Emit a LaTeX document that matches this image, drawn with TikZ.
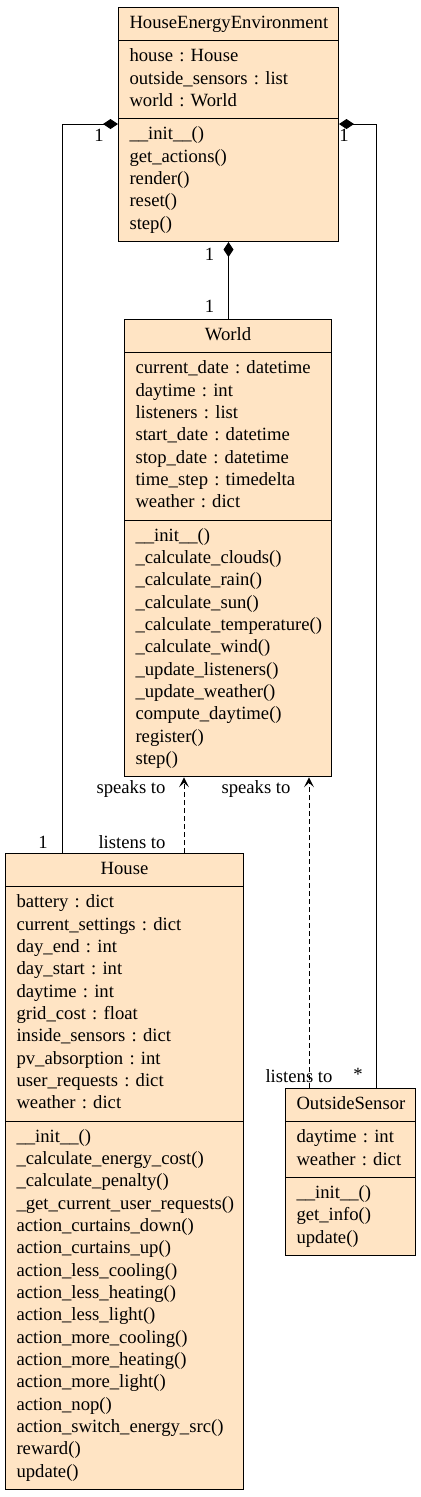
\documentclass[tikz,border=0pt]{standalone}
\usepackage{fontspec}
\setmainfont{Liberation Serif}
\usetikzlibrary{shapes.multipart, arrows.meta}
\definecolor{bisque}{HTML}{FFE4C4}

\begin{document}
\begin{tikzpicture}[x=0.75pt, y=-0.75pt, line width=0.75pt,
        umlclass/.style={rectangle split, rectangle split parts=3, draw, fill=bisque,
            inner xsep=8.25pt, inner ysep=3.75pt, align=left, anchor=north west,
            font=\fontsize{14}{16.75}\selectfont\frenchspacing},
        comp/.style={{Diamond[length=11.25pt,width=7.5pt]}-},
        dep/.style={-{Stealth[length=7.5pt,width=7.5pt,inset=3.5pt]}, dash pattern=on 3.75pt off 2.25pt},
        mult/.style={font=\fontsize{14}{16.75}\selectfont, inner sep=0pt}]
        \useasboundingbox (0,0) rectangle (421,1497);
        % classes
        \node[umlclass, text width=148.5pt](hee) at (118,7){\centering\strut HouseEnergyEnvironment\par
            \nodepart{second}\strut house : House\\ outside\_sensors : list\\ world : World\strut
            \nodepart{third}\strut\_\_init\_\_()\\ get\_actions()\\ render()\\ reset()\\ step()\strut};
        \node[umlclass, text width=138.75pt](world) at (124,319){\centering\strut World\par
            \nodepart{second}\strut current\_date : datetime\\ daytime : int\\ listeners : list\\
            start\_date : datetime\\ stop\_date : datetime\\ time\_step : timedelta\\ weather : dict\strut
            \nodepart{third}\strut\_\_init\_\_()\\ \_calculate\_clouds()\\ \_calculate\_rain()\\
            \_calculate\_sun()\\ \_calculate\_temperature()\\ \_calculate\_wind()\\ \_update\_listeners()\\
            \_update\_weather()\\ compute\_daytime()\\ register()\\ step()\strut};
        \node[umlclass, text width=162pt](house) at (5,853){\centering\strut House\par
            \nodepart{second}\strut battery : dict\\ current\_settings : dict\\ day\_end : int\\
            day\_start : int\\ daytime : int\\ grid\_cost : float\\ inside\_sensors : dict\\
            pv\_absorption : int\\ user\_requests : dict\\ weather : dict\strut
            \nodepart{third}\strut\_\_init\_\_()\\ \_calculate\_energy\_cost()\\ \_calculate\_penalty()\\
            \_get\_current\_user\_requests()\\ action\_curtains\_down()\\ action\_curtains\_up()\\
            action\_less\_cooling()\\ action\_less\_heating()\\ action\_less\_light()\\
            action\_more\_cooling()\\ action\_more\_heating()\\ action\_more\_light()\\
            action\_nop()\\ action\_switch\_energy\_src()\\ reward()\\ update()\strut};
        \node[umlclass, text width=81pt](sensor) at (285,1088){\centering\strut OutsideSensor\par
            \nodepart{second}\strut daytime : int\\ weather : dict\strut
            \nodepart{third}\strut\_\_init\_\_()\\ get\_info()\\ update()\strut};

        % compositions
        \draw[comp] (hee.west |- 0,124) -| (62,0 |- house.north)
            node[mult, at start, xshift=-14.25pt, yshift=-8.25pt] {1}
            node[mult, at end, xshift=-14.25pt, yshift=8.25pt] {1};
        \draw[comp] (hee.south) -- (hee.south |- world.north)
            node[mult, at start, xshift=-14.25pt, yshift=-9pt] {1}
            node[mult, at end, xshift=-14.25pt, yshift=9.75pt] {1};
        \draw[comp] (hee.east |- 0,124) -| (376,0 |- sensor.north)
            node[mult, at start, xshift=3.75pt, yshift=-8.25pt] {1}
            node[mult, at end, xshift=-13.5pt, yshift=10.5pt] {*};

        % listeners
        \draw[dep] (184,0 |- house.north) -- (184,0 |- world.south)
            node[mult, at start, xshift=-39pt, yshift=8.25pt] {listens to}
            node[mult, at end, xshift=-39.75pt, yshift=-9pt] {speaks to};
        \draw[dep] (309,0 |- sensor.north) -- (309,0 |- world.south)
            node[mult, at start, xshift=-7.5pt, yshift=9pt] {listens to}
            node[mult, at end, xshift=-39.75pt, yshift=-9pt] {speaks to};
\end{tikzpicture}
\end{document}
